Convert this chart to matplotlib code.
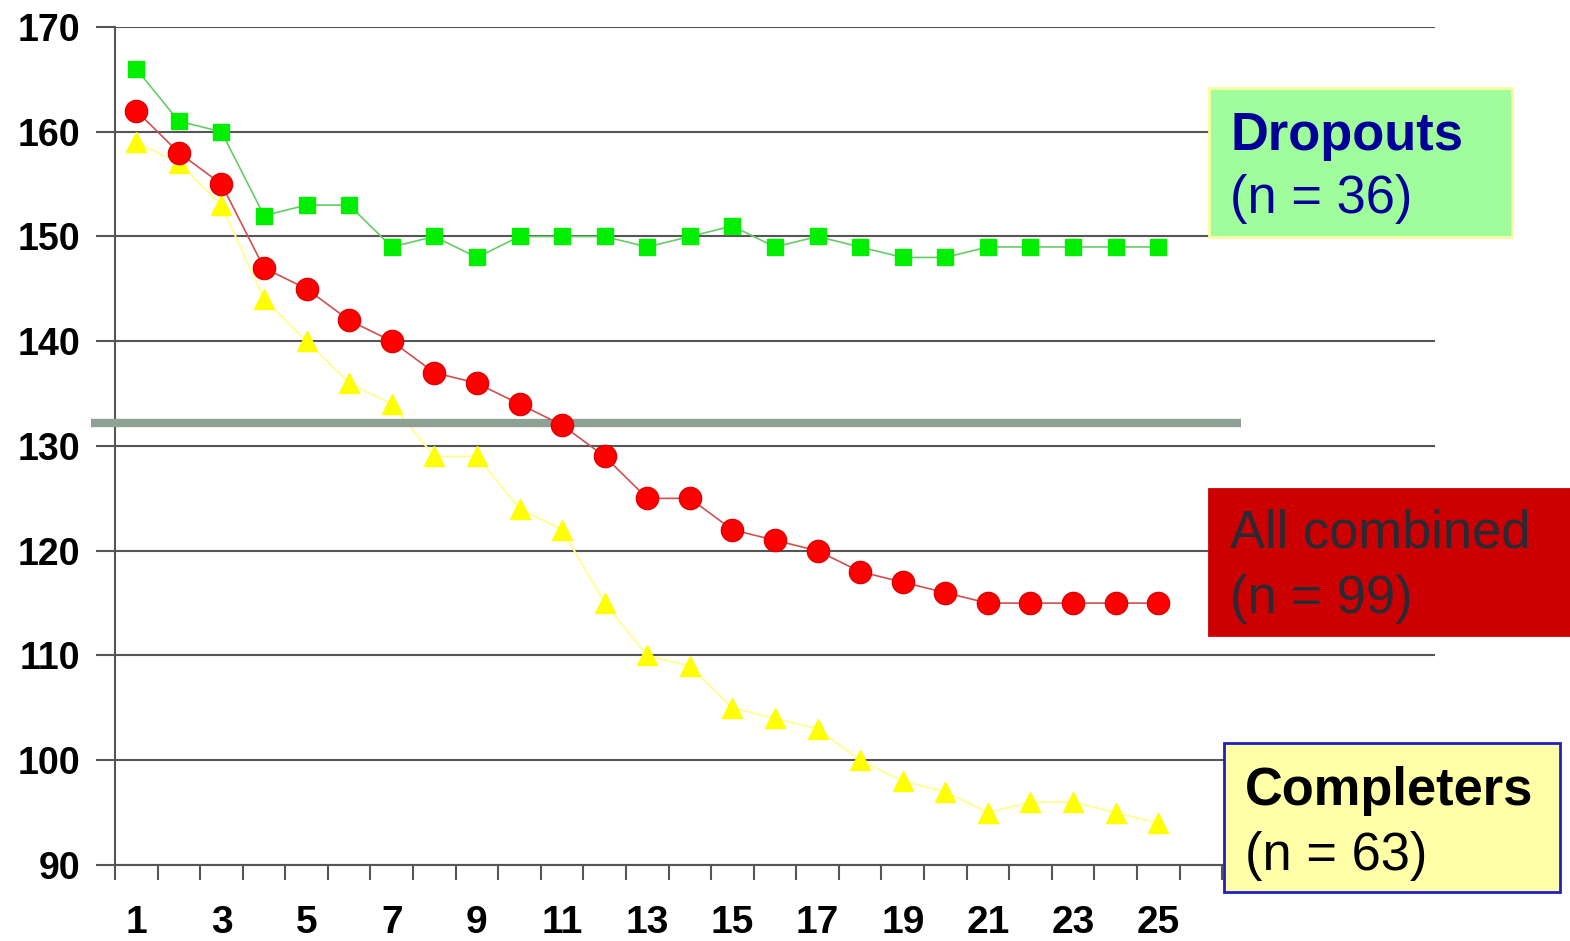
import matplotlib
matplotlib.use("Agg")
import matplotlib.pyplot as plt
from matplotlib.patches import Rectangle
import numpy as np

# Datos
semanas = list(range(1, 26))
dropouts = [166, 161, 160, 152, 153, 153, 149, 150, 148, 150, 150, 150, 149,
            150, 151, 149, 150, 149, 148, 148, 149, 149, 149, 149, 149]
combinados = [162, 158, 155, 147, 145, 142, 140, 137, 136, 134, 132, 129, 125,
              125, 122, 121, 120, 118, 117, 116, 115, 115, 115, 115, 115]
completers = [159, 157, 153, 144, 140, 136, 134, 129, 129, 124, 122, 115, 110,
              109, 105, 104, 103, 100, 98, 97, 95, 96, 96, 95, 94]
linea_ref = 132.2
etiquetas_x = [str(i) for i in range(1, 26, 2)]
etiquetas_y = [90, 100, 110, 120, 130, 140, 150, 160, 170]

plt.rcParams['font.family'] = ['Liberation Sans', 'DejaVu Sans']

W, H = 1570, 941
fig = plt.figure(figsize=(W / 100, H / 100), dpi=100)
ax = fig.add_axes([115 / W, 1 - 865 / H, (1435 - 115) / W, (865 - 27) / H])

# Series
ax.plot(semanas, completers, color='#ffff99', lw=1.4, marker='^', ms=15,
        mfc='#ffff00', mec='#ffff00', zorder=2)
ax.plot([-0.06, 26.94], [linea_ref, linea_ref], color='#8fa095', lw=6,
        solid_capstyle='butt', clip_on=False, zorder=3)
ax.plot(semanas, combinados, color='#d05050', lw=1.2, marker='o', ms=16,
        mfc='#ff0000', mec='#e00000', zorder=4)
ax.plot(semanas, dropouts, color='#66cc66', lw=1.2, marker='s', ms=11,
        mfc='#00ee00', mec='#00ee00', zorder=4)

ax.set_xlim(0.5, 31.5)
ax.set_ylim(90, 170)

# Ejes y cuadrícula
ax.set_yticks(etiquetas_y)
ax.set_yticklabels([str(v) for v in etiquetas_y], fontsize=27, fontweight='bold')
ax.yaxis.grid(True, color='#555555', lw=1.5)
ax.set_axisbelow(True)
ax.tick_params(axis='y', length=14, width=1.5, color='#555555', pad=11, direction='out')

ax.set_xticks(np.arange(0.5, 31.6, 1.0))
ax.set_xticklabels([])
ax.tick_params(axis='x', which='major', length=11, width=1.5, color='#555555', direction='out')
ax.set_xticks(range(1, 26, 2), minor=True)
ax.set_xticklabels(etiquetas_x, minor=True, fontsize=28, fontweight='bold')
ax.tick_params(axis='x', which='minor', length=0, pad=29)

for s in ['top', 'right']:
    ax.spines[s].set_visible(False)
for s in ['left', 'bottom']:
    ax.spines[s].set_color('#555555')
    ax.spines[s].set_linewidth(1.5)

# Cuadros de texto
def cuadro(x0, y0, x1, y1, fondo, borde):
    fig.patches.append(Rectangle((x0 / W, 1 - y1 / H), (x1 - x0) / W, (y1 - y0) / H,
                                 transform=fig.transFigure, facecolor=fondo,
                                 edgecolor=borde, lw=2, zorder=5))

def texto(x, y, s, color, peso):
    fig.text(x / W, 1 - y / H, s, color=color, fontsize=37.8, fontweight=peso,
             ha='left', va='baseline', zorder=6)

cuadro(1209, 88, 1512, 237, '#9ffd9b', '#fffaa0')
texto(1230, 150, 'Dropouts', '#000099', 'bold')
texto(1230, 213, '(n = 36)', '#000099', 'normal')

cuadro(1209, 489, 1572, 635, '#cc0000', '#cc0000')
texto(1230, 548, 'All combined', '#2a2a35', 'normal')
texto(1230, 613, '(n = 99)', '#2a2a35', 'normal')

cuadro(1224, 743, 1560, 892, '#ffffa8', '#2020c0')
texto(1245, 805, 'Completers', '#000000', 'bold')
texto(1245, 870, '(n = 63)', '#000000', 'normal')

fig.savefig('out.png', dpi=100)
